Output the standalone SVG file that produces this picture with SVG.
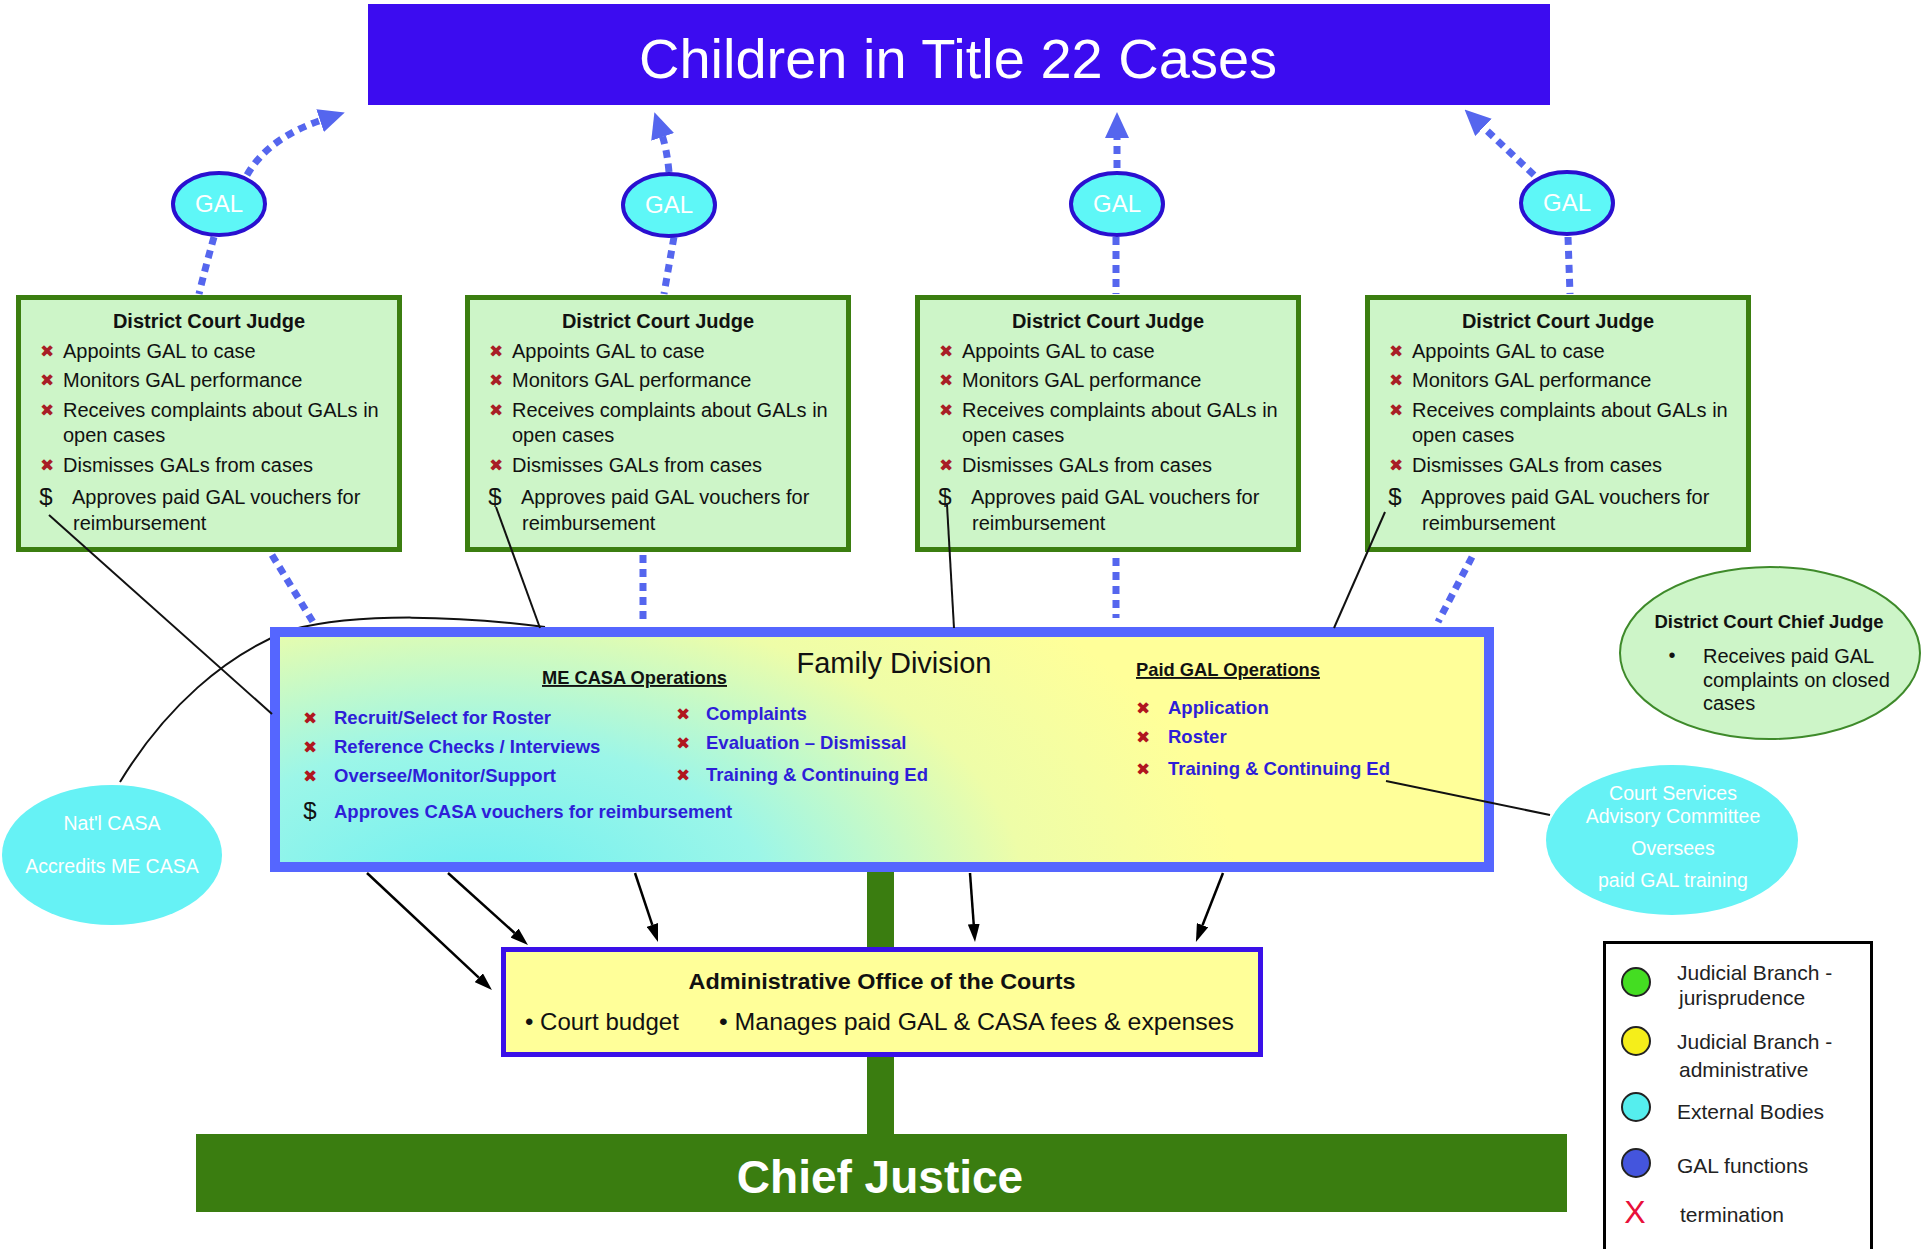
<svg xmlns="http://www.w3.org/2000/svg" width="1923" height="1249" viewBox="0 0 1923 1249">
<defs>
<style>
.sans{font-family:"Liberation Sans",Arial,sans-serif}
.jbox{fill:#CDF5C8;stroke:#3B7E10;stroke-width:5}
.jt{font-family:"Liberation Sans",Arial,sans-serif;font-weight:bold;font-size:20px;fill:#111;text-anchor:middle}
.ji{font-family:"Liberation Sans",Arial,sans-serif;font-size:20px;fill:#111}
.xm{font-family:"DejaVu Sans",sans-serif;font-size:17px;fill:#A81E26;text-anchor:middle}
.xb{font-family:"DejaVu Sans",sans-serif;font-size:17px;fill:#B0161E;text-anchor:middle}
.dol{font-family:"Liberation Sans",Arial,sans-serif;font-size:24px;fill:#111;text-anchor:middle}
.bi{font-family:"Liberation Sans",Arial,sans-serif;font-weight:bold;font-size:18.5px;fill:#2E1ED8}
.hd{font-family:"Liberation Sans",Arial,sans-serif;font-weight:bold;font-size:19px;fill:#111;text-decoration:underline}
.dot{fill:none;stroke:#5566EE;stroke-width:7;stroke-dasharray:8 6}
.blk{fill:none;stroke:#000;stroke-width:2.5}
.thin{fill:none;stroke:#111;stroke-width:2}
.gal{fill:#5EF7F7;stroke:#2A10D0;stroke-width:4}
.galt{font-family:"Liberation Sans",Arial,sans-serif;font-size:24px;fill:#fff;text-anchor:middle}
.ext{fill:#66F2F5}
.extt{font-family:"Liberation Sans",Arial,sans-serif;font-size:19.5px;fill:#fff;text-anchor:middle}
.lg{font-family:"Liberation Sans",Arial,sans-serif;font-size:21px;fill:#222}
.lc{stroke:#222;stroke-width:2}
</style>
<marker id="ba" markerUnits="userSpaceOnUse" markerWidth="26" markerHeight="24" refX="2" refY="12" orient="auto" viewBox="0 0 26 24">
<path d="M0,0 L26,12 L0,24 z" fill="#5566EE"/>
</marker>
<marker id="ka" markerUnits="userSpaceOnUse" markerWidth="18" markerHeight="12" refX="0" refY="6" orient="auto" viewBox="0 0 18 12">
<path d="M0,0 L18,6 L0,12 z" fill="#000"/>
</marker>
<radialGradient id="fdg" gradientUnits="userSpaceOnUse" cx="480" cy="900" r="760" gradientTransform="translate(480 900) scale(1 0.55) translate(-480 -900)">
<stop offset="0" stop-color="#6CEFF2"/>
<stop offset="0.38" stop-color="#9CF6E8"/>
<stop offset="0.72" stop-color="#EEFDA8"/>
<stop offset="1" stop-color="#FFFF99"/>
</radialGradient>
</defs>
<rect width="1923" height="1249" fill="#fff"/>

<g id="connectors">
<path class="dot" d="M247,175 Q268,138 322,120" marker-end="url(#ba)"/>
<path class="dot" d="M669,172 Q667,150 662,135" marker-end="url(#ba)"/>
<path class="dot" d="M1117,168 L1117,136" marker-end="url(#ba)"/>
<path class="dot" d="M1534,175 L1482,126" marker-end="url(#ba)"/>
<path class="dot" d="M214,237 Q206,265 199,294"/>
<path class="dot" d="M674,237 Q669,265 664,294"/>
<path class="dot" d="M1116,237 L1116,294"/>
<path class="dot" d="M1568,237 L1570,294"/>
<path class="dot" d="M272,555 L313,622"/>
<path class="dot" d="M643,555 L643,622"/>
<path class="dot" d="M1116,558 L1116,618"/>
<path class="dot" d="M1472,557 L1438,622"/>
<path class="thin" d="M120,782 C165,708 225,655 290,630 C360,612 460,616 545,627"/>
<rect x="867" y="866" width="27" height="272" fill="#3A7D10"/>
<path class="blk" d="M367,873 L478.8,977.7" marker-end="url(#ka)"/>
<path class="blk" d="M448,873 L514.6,933" marker-end="url(#ka)"/>
<path class="blk" d="M635,873 L652.3,924.9" marker-end="url(#ka)"/>
<path class="blk" d="M970,873 L973.7,924" marker-end="url(#ka)"/>
<path class="blk" d="M1223,873 L1202.5,925.2" marker-end="url(#ka)"/>
</g>

<g id="title">
<rect x="368" y="4" width="1182" height="101" fill="#3C0CF0"/>
<text x="958" y="78" class="sans" font-size="56" fill="#fff" text-anchor="middle">Children in Title 22 Cases</text>
</g>

<g id="gal1"><ellipse class="gal" cx="219" cy="204" rx="46" ry="31"/><text class="galt" x="219" y="212">GAL</text></g>
<g id="gal2"><ellipse class="gal" cx="669" cy="205" rx="46" ry="31"/><text class="galt" x="669" y="213">GAL</text></g>
<g id="gal3"><ellipse class="gal" cx="1117" cy="204" rx="46" ry="31"/><text class="galt" x="1117" y="212">GAL</text></g>
<g id="gal4"><ellipse class="gal" cx="1567" cy="203" rx="46" ry="31"/><text class="galt" x="1567" y="211">GAL</text></g>

<g id="judge1" transform="translate(16,295)">
<rect class="jbox" x="2.5" y="2.5" width="381" height="252"/>
<text class="jt" x="193" y="33">District Court Judge</text>
<text class="xm" x="31" y="62">✖</text><text class="ji" x="47" y="63">Appoints GAL to case</text>
<text class="xm" x="31" y="91">✖</text><text class="ji" x="47" y="92">Monitors GAL performance</text>
<text class="xm" x="31" y="121">✖</text><text class="ji" x="47" y="122">Receives complaints about GALs in</text>
<text class="ji" x="47" y="147">open cases</text>
<text class="xm" x="31" y="176">✖</text><text class="ji" x="47" y="177">Dismisses GALs from cases</text>
<text class="dol" x="30" y="210">$</text><text class="ji" x="56" y="209">Approves paid GAL vouchers for</text>
<text class="ji" x="57" y="235">reimbursement</text>
</g>
<g id="judge2" transform="translate(465,295)">
<rect class="jbox" x="2.5" y="2.5" width="381" height="252"/>
<text class="jt" x="193" y="33">District Court Judge</text>
<text class="xm" x="31" y="62">✖</text><text class="ji" x="47" y="63">Appoints GAL to case</text>
<text class="xm" x="31" y="91">✖</text><text class="ji" x="47" y="92">Monitors GAL performance</text>
<text class="xm" x="31" y="121">✖</text><text class="ji" x="47" y="122">Receives complaints about GALs in</text>
<text class="ji" x="47" y="147">open cases</text>
<text class="xm" x="31" y="176">✖</text><text class="ji" x="47" y="177">Dismisses GALs from cases</text>
<text class="dol" x="30" y="210">$</text><text class="ji" x="56" y="209">Approves paid GAL vouchers for</text>
<text class="ji" x="57" y="235">reimbursement</text>
</g>
<g id="judge3" transform="translate(915,295)">
<rect class="jbox" x="2.5" y="2.5" width="381" height="252"/>
<text class="jt" x="193" y="33">District Court Judge</text>
<text class="xm" x="31" y="62">✖</text><text class="ji" x="47" y="63">Appoints GAL to case</text>
<text class="xm" x="31" y="91">✖</text><text class="ji" x="47" y="92">Monitors GAL performance</text>
<text class="xm" x="31" y="121">✖</text><text class="ji" x="47" y="122">Receives complaints about GALs in</text>
<text class="ji" x="47" y="147">open cases</text>
<text class="xm" x="31" y="176">✖</text><text class="ji" x="47" y="177">Dismisses GALs from cases</text>
<text class="dol" x="30" y="210">$</text><text class="ji" x="56" y="209">Approves paid GAL vouchers for</text>
<text class="ji" x="57" y="235">reimbursement</text>
</g>
<g id="judge4" transform="translate(1365,295)">
<rect class="jbox" x="2.5" y="2.5" width="381" height="252"/>
<text class="jt" x="193" y="33">District Court Judge</text>
<text class="xm" x="31" y="62">✖</text><text class="ji" x="47" y="63">Appoints GAL to case</text>
<text class="xm" x="31" y="91">✖</text><text class="ji" x="47" y="92">Monitors GAL performance</text>
<text class="xm" x="31" y="121">✖</text><text class="ji" x="47" y="122">Receives complaints about GALs in</text>
<text class="ji" x="47" y="147">open cases</text>
<text class="xm" x="31" y="176">✖</text><text class="ji" x="47" y="177">Dismisses GALs from cases</text>
<text class="dol" x="30" y="210">$</text><text class="ji" x="56" y="209">Approves paid GAL vouchers for</text>
<text class="ji" x="57" y="235">reimbursement</text>
</g>

<g id="family-division">
<rect x="275" y="632" width="1214" height="235" fill="url(#fdg)" stroke="#5566FF" stroke-width="10"/>
<text x="894" y="673" class="sans" font-size="29" fill="#111" text-anchor="middle">Family Division</text>
<text class="hd" x="542" y="684" textLength="185" lengthAdjust="spacingAndGlyphs">ME CASA Operations</text>
<text class="hd" x="1136" y="676" textLength="184" lengthAdjust="spacingAndGlyphs">Paid GAL Operations</text>
<text class="xb" x="310" y="724">✖</text><text class="bi" x="334" y="724">Recruit/Select for Roster</text>
<text class="xb" x="310" y="753">✖</text><text class="bi" x="334" y="753">Reference Checks / Interviews</text>
<text class="xb" x="310" y="782">✖</text><text class="bi" x="334" y="782">Oversee/Monitor/Support</text>
<text class="dol" x="310" y="819">$</text><text class="bi" x="334" y="818">Approves CASA vouchers for reimbursement</text>
<text class="xb" x="683" y="720">✖</text><text class="bi" x="706" y="720">Complaints</text>
<text class="xb" x="683" y="749">✖</text><text class="bi" x="706" y="749">Evaluation – Dismissal</text>
<text class="xb" x="683" y="781">✖</text><text class="bi" x="706" y="781">Training &amp; Continuing Ed</text>
<text class="xb" x="1143" y="714">✖</text><text class="bi" x="1168" y="714">Application</text>
<text class="xb" x="1143" y="743">✖</text><text class="bi" x="1168" y="743">Roster</text>
<text class="xb" x="1143" y="775">✖</text><text class="bi" x="1168" y="775">Training &amp; Continuing Ed</text>
</g>

<g id="chief-judge">
<ellipse cx="1770" cy="653" rx="150" ry="86" fill="#CDF5C8" stroke="#3E8A2A" stroke-width="2"/>
<text x="1769" y="628" class="sans" font-weight="bold" font-size="18.5" fill="#111" text-anchor="middle">District Court Chief Judge</text>
<text x="1672" y="662" class="sans" font-size="20" fill="#111" text-anchor="middle">•</text>
<text x="1703" y="663" class="sans" font-size="20" fill="#111">Receives paid GAL</text>
<text x="1703" y="687" class="sans" font-size="20" fill="#111">complaints on closed</text>
<text x="1703" y="710" class="sans" font-size="20" fill="#111">cases</text>
</g>

<g id="nat-casa">
<ellipse class="ext" cx="112" cy="855" rx="110" ry="70"/>
<text class="extt" x="112" y="830">Nat'l CASA</text>
<text class="extt" x="112" y="873">Accredits ME CASA</text>
</g>

<g id="court-services">
<ellipse class="ext" cx="1672" cy="840" rx="126" ry="75"/>
<text class="extt" x="1673" y="800">Court Services</text>
<text class="extt" x="1673" y="823">Advisory Committee</text>
<text class="extt" x="1673" y="855">Oversees</text>
<text class="extt" x="1673" y="887">paid GAL training</text>
</g>

<g id="aoc">
<rect x="503.5" y="949.5" width="757" height="105" fill="#FFFF99" stroke="#3A10E8" stroke-width="5"/>
<text x="882" y="989" class="sans" font-weight="bold" font-size="22" fill="#111" text-anchor="middle" textLength="387" lengthAdjust="spacingAndGlyphs">Administrative Office of the Courts</text>
<text x="525" y="1030" class="sans" font-size="24" fill="#111">• Court budget</text>
<text x="719" y="1030" class="sans" font-size="24" fill="#111" textLength="515" lengthAdjust="spacingAndGlyphs">• Manages paid GAL &amp; CASA fees &amp; expenses</text>
</g>

<g id="chief-justice">
<rect x="196" y="1134" width="1371" height="78" fill="#3A7D10"/>
<text x="880" y="1193" class="sans" font-weight="bold" font-size="46" fill="#fff" text-anchor="middle">Chief Justice</text>
</g>

<g id="connectors-over">
<path class="thin" d="M49,515 L272,714"/>
<path class="thin" d="M496,507 L540,628"/>
<path class="thin" d="M947,505 L954,628"/>
<path class="thin" d="M1385,512 L1334,628"/>
<path class="thin" d="M1386,781 L1550,815"/>
</g>

<g id="legend">
<rect x="1604.5" y="942.5" width="267" height="330" fill="#fff" stroke="#000" stroke-width="3"/>
<circle class="lc" cx="1636" cy="982" r="14" fill="#44DD22"/>
<circle class="lc" cx="1636" cy="1041" r="14" fill="#F5EE1A"/>
<circle class="lc" cx="1636" cy="1107" r="14" fill="#55EEEE"/>
<circle class="lc" cx="1636" cy="1163" r="14" fill="#4455DD"/>
<text x="1635" y="1223" class="sans" font-size="32" fill="#E8103A" text-anchor="middle">X</text>
<text class="lg" x="1677" y="980">Judicial Branch -</text>
<text class="lg" x="1679" y="1005">jurisprudence</text>
<text class="lg" x="1677" y="1049">Judicial Branch -</text>
<text class="lg" x="1679" y="1077">administrative</text>
<text class="lg" x="1677" y="1119">External Bodies</text>
<text class="lg" x="1677" y="1173">GAL functions</text>
<text class="lg" x="1680" y="1222">termination</text>
</g>
</svg>
